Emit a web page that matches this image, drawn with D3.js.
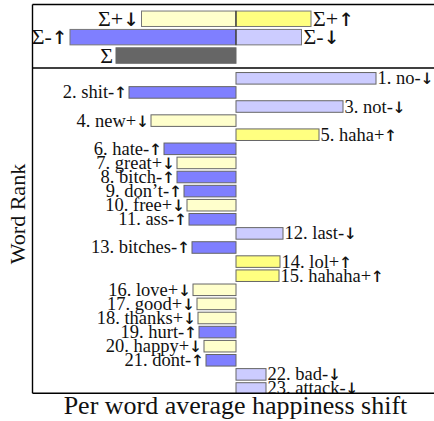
<!DOCTYPE html>
<html>
<head>
<meta charset="utf-8">
<script src="https://cdn.jsdelivr.net/npm/d3@7"></script>
<style>
  html, body { margin: 0; padding: 0; background: #fff; }
  svg { display: block; }
  text { font-family: "Liberation Serif", "DejaVu Serif", serif; fill: #111; }
  tspan.arr { font-family: "DejaVu Sans Mono", "DejaVu Sans", monospace; fill: #111; font-size: 1.15em; }
</style>
</head>
<body>
<svg id="chart" width="434" height="421"></svg>
<script>
// Word shift: ranked words and their per-word contribution to the happiness shift
const words = ["no", "shit", "not", "new", "haha", "hate", "great", "bitch", "don\u2019t", "free",
  "ass", "last", "bitches", "lol", "hahaha", "love", "good", "thanks", "hurt", "happy",
  "dont", "bad", "attack"];
// sign of the word's happiness relative to the reference (+ happy, - unhappy)
const valence = ["-", "-", "-", "+", "+", "-", "+", "-", "-", "+",
  "-", "-", "-", "+", "+", "+", "+", "+", "-", "+",
  "-", "-", "-"];
// direction of the frequency change (up = used more, down = used less)
const direction = ["down", "up", "down", "down", "up", "up", "down", "up", "up", "down",
  "up", "down", "up", "up", "up", "down", "down", "down", "up", "down",
  "up", "down", "down"];
const shifts = [2.80, -2.14, 2.14, -1.70, 1.66, -1.44, -1.18, -1.18, -1.04, -0.98,
  -0.94, 0.94, -0.88, 0.88, 0.86, -0.86, -0.78, -0.76, -0.74, -0.64,
  -0.60, 0.60, 0.60];

// Summary totals of the four kinds of contribution and the overall sum
const sumSigns = ["+", "+", "-", "-", ""];
const sumArrows = ["down", "up", "up", "down", null];
const sumValues = [-18.9, 15.0, -33.2, 13.1, -24.0];

const fills = {
  "+up": "#ffff80", "+down": "#ffffcc",
  "-up": "#7f7fff", "-down": "#ccccff"
};
const arrow = { up: "\u2191", down: "\u2193" };

const svg = d3.select("#chart");
const W = 434, H = 421;
const frameLeft = 32.5, frameTop = 4.5, frameSep = 68, frameBottom = 393.3;

// Scales
const x = d3.scaleLinear().domain([-4, 4]).range([36, 436]);
const xs = d3.scaleLinear().domain([-40, 40]).range([36, 436]);
const ranks = d3.range(1, words.length + 1);
const y = d3.scaleBand().domain(ranks).range([70.0, 396.8]).paddingInner(0.18).paddingOuter(0.18);
const ys = d3.scaleBand().domain(["pos", "neg", "sum"]).range([9.2, 65.1]).paddingInner(0.16).paddingOuter(0.1);

// label = plain text followed by an arrow glyph in a tspan
function writeLabel(sel, textOf, arrowOf) {
  sel.each(function (d) {
    const t = d3.select(this);
    t.append("tspan").text(textOf(d));
    const a = arrowOf(d);
    if (a) t.append("tspan").attr("class", "arr").text(arrow[a]);
  });
}

// ---- summary panel ----
const sumRows = sumValues.map((v, i) => ({
  v, sign: sumSigns[i], dir: sumArrows[i],
  row: i < 2 ? "pos" : i < 4 ? "neg" : "sum",
  fill: i === 4 ? "#666666" : fills[sumSigns[i] + sumArrows[i]]
}));
const gs = svg.append("g");
gs.selectAll("rect").data(sumRows).join("rect")
  .attr("x", d => Math.min(xs(0), xs(d.v)))
  .attr("width", d => Math.abs(xs(d.v) - xs(0)))
  .attr("y", d => ys(d.row))
  .attr("height", ys.bandwidth())
  .attr("fill", d => d.fill)
  .attr("stroke", d => d.row === "sum" ? "#666" : "#777")
  .attr("stroke-width", 1);
// dark divider between the two halves of the stacked rows
gs.selectAll("line.mid").data(["pos", "neg"]).join("line")
  .attr("class", "mid")
  .attr("x1", xs(0)).attr("x2", xs(0))
  .attr("y1", d => ys(d)).attr("y2", d => ys(d) + ys.bandwidth())
  .attr("stroke", "#222").attr("stroke-width", 1);
gs.selectAll("text").data(sumRows).join("text")
  .attr("x", d => d.v < 0 ? xs(d.v) - 3 : xs(d.v) + 2)
  .attr("y", d => ys(d.row) + ys.bandwidth() / 2 + 7)
  .attr("text-anchor", d => d.v < 0 ? "end" : "start")
  .style("font-size", "22px")
  .call(writeLabel, d => "\u03A3" + d.sign, d => d.dir);

// ---- word bars ----
const data = words.map((w, i) => ({
  rank: i + 1, word: w, v: shifts[i],
  key: valence[i] + direction[i],
  dir: direction[i],
  text: `${i + 1}. ${w}${valence[i]}`
}));

svg.append("clipPath").attr("id", "plotClip")
  .append("rect").attr("x", frameLeft).attr("y", frameSep).attr("width", W - frameLeft).attr("height", frameBottom - frameSep);

const gm = svg.append("g").attr("clip-path", "url(#plotClip)");
gm.selectAll("rect").data(data).join("rect")
  .attr("x", d => Math.min(x(0), x(d.v)))
  .attr("width", d => Math.abs(x(d.v) - x(0)))
  .attr("y", d => y(d.rank))
  .attr("height", y.bandwidth())
  .attr("fill", d => fills[d.key])
  .attr("stroke", "#666")
  .attr("stroke-width", 1);
gm.selectAll("text").data(data).join("text")
  .attr("x", d => d.v < 0 ? x(d.v) - 2 : x(d.v) + 1.5)
  .attr("y", d => y(d.rank) + y.bandwidth() / 2 + 6)
  .attr("text-anchor", d => d.v < 0 ? "end" : "start")
  .style("font-size", "18.5px")
  .call(writeLabel, d => d.text, d => d.dir);

// ---- frame ----
const frame = svg.append("g").attr("stroke", "#000").attr("fill", "none");
frame.append("line").attr("x1", frameLeft).attr("x2", W).attr("y1", frameTop).attr("y2", frameTop).attr("stroke-width", 1.3);
frame.append("line").attr("x1", frameLeft).attr("x2", W).attr("y1", frameSep).attr("y2", frameSep).attr("stroke-width", 1.3);
frame.append("line").attr("x1", frameLeft).attr("x2", W).attr("y1", frameBottom).attr("y2", frameBottom).attr("stroke-width", 1.4);
frame.append("line").attr("x1", frameLeft).attr("x2", frameLeft).attr("y1", frameTop).attr("y2", frameBottom).attr("stroke-width", 1.4);

// ---- axis titles ----
svg.append("text")
  .attr("x", 235.5).attr("y", 414)
  .attr("text-anchor", "middle")
  .style("font-size", "26px")
  .text("Per word average happiness shift");
svg.append("text")
  .attr("transform", "translate(25,214) rotate(-90)")
  .attr("text-anchor", "middle")
  .style("font-size", "22px")
  .text("Word Rank");
</script>
</body>
</html>
